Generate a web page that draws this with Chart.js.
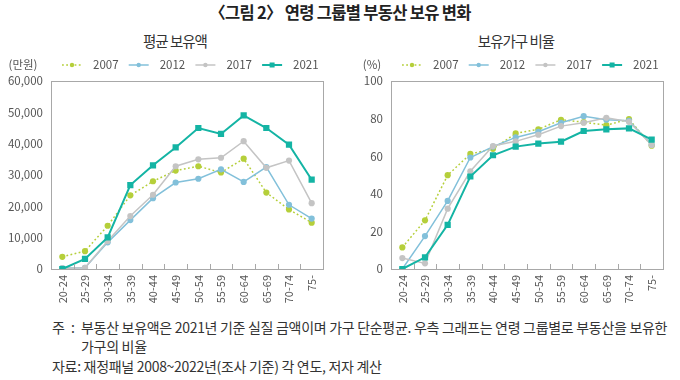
<!DOCTYPE html>
<html><head><meta charset="utf-8">
<script src="https://cdn.jsdelivr.net/npm/chart.js@4/dist/chart.umd.min.js"></script>
<style>
html,body{margin:0;padding:0;background:#fff;}
body{width:680px;height:380px;position:relative;overflow:hidden;font-family:"Noto Sans CJK KR","Noto Sans",sans-serif;color:#333;}
.t{position:absolute;white-space:nowrap;}
#title{left:0;width:680px;text-align:center;top:0px;font-size:16.5px;font-weight:bold;color:#222;letter-spacing:-0.7px;}
.sub{top:30px;font-size:14.5px;color:#333;letter-spacing:-1px;text-align:center;width:200px;}
.wrap{position:absolute;top:52px;width:340px;height:264px;}
.note{font-size:14px;color:#333;letter-spacing:-0.3px;line-height:20px;}
</style></head>
<body>
<div class="t" id="title">〈그림 2〉 연령 그룹별 부동산 보유 변화</div>
<div class="t sub" style="left:75px;">평균 보유액</div>
<div class="t sub" style="left:416px;">보유가구 비율</div>
<div class="wrap" style="left:0"><canvas id="c1"></canvas></div>
<div class="wrap" style="left:340px"><canvas id="c2"></canvas></div>
<div class="t note" style="left:52px;top:317px;">주</div>
<div class="t note" style="left:71px;top:317px;">:</div>
<div class="t note" style="left:81px;top:317px;">부동산 보유액은 2021년 기준 실질 금액이며 가구 단순평균. 우측 그래프는 연령 그룹별로 부동산을 보유한</div>
<div class="t note" style="left:81px;top:336px;">가구의 비율</div>
<div class="t note" style="left:52px;top:356px;">자료: 재정패널 2008~2022년(조사 기준) 각 연도, 저자 계산</div>
<script>
const ages = ['20-24','25-29','30-34','35-39','40-44','45-49','50-54','55-59','60-64','65-69','70-74','75-'];
const years = ['2007','2012','2017','2021'];
// 평균 보유액 (만원)
const amt2007 = [3900, 5700, 13800, 23500, 28000, 31400, 32800, 30800, 35200, 24400, 19000, 14800];
const amt2012 = [300, 400, 8500, 15600, 22600, 27600, 28800, 31800, 27800, 32500, 20500, 16100];
const amt2017 = [200, 400, 8900, 16900, 23700, 32800, 35000, 35500, 40800, 32300, 34600, 21000];
const amt2021 = [0, 3200, 10100, 26800, 33100, 38800, 45000, 43100, 49000, 45000, 39700, 28500];
// 보유가구 비율 (%)
const rate2007 = [11.5, 25.9, 49.9, 61.2, 63.9, 72.1, 74.3, 79.4, 78.1, 76.5, 79.7, 65.6];
const rate2012 = [0, 17.5, 36.2, 59.3, 65.1, 70.0, 73.0, 77.8, 81.3, 79.4, 78.8, 66.1];
const rate2017 = [5.8, 3.0, 32.1, 52.0, 65.4, 67.9, 71.4, 76.0, 77.8, 80.4, 78.3, 66.0];
const rate2021 = [0, 6.2, 23.5, 49.2, 60.5, 65.1, 66.7, 67.7, 73.4, 74.3, 74.8, 68.8];

const colors = ['#b5cf3a', '#82c0da', '#c4c4c4', '#14b4a4'];
const FONT = '"Noto Sans CJK KR","Noto Sans",sans-serif';

function makeSets(series){
  return series.map((d,i)=>({
    label: years[i],
    data: d,
    borderColor: colors[i],
    backgroundColor: colors[i],
    borderWidth: i===3 ? 2 : 1.5,
    borderDash: i===0 ? [1.8,2.4] : [],
    pointStyle: i===3 ? 'rect' : 'circle',
    pointRadius: i===3 ? 4.4 : 3.1,
    pointHoverRadius: i===3 ? 4.4 : 3.1,
    pointBorderWidth: 0,
    tension: 0,
    order: 3 - i
  }));
}

const framePlugin = {
  id:'frame',
  afterDatasetsDraw(chart){
    const {ctx, chartArea:a, scales:{x}} = chart;
    ctx.save();
    ctx.strokeStyle = '#a8a8a8';
    ctx.lineWidth = 1;
    ctx.strokeRect(Math.round(a.left)+0.5, Math.round(a.top)+0.5, Math.round(a.right-a.left), Math.round(a.bottom-a.top));
    ctx.beginPath();
    for(let i=0;i<ages.length-1;i++){
      const px = Math.round((x.getPixelForValue(i)+x.getPixelForValue(i+1))/2)+0.5;
      ctx.moveTo(px, a.bottom);
      ctx.lineTo(px, a.bottom-5);
    }
    ctx.stroke();
    ctx.restore();
  }
};

const legendPlugin = {
  id:'mylegend',
  afterDraw(chart, args, opts){
    const ctx = chart.ctx;
    const y = 13;
    ctx.save();
    ctx.font = '11.5px ' + FONT;
    ctx.fillStyle = '#555';
    ctx.textBaseline = 'middle';
    ctx.textAlign = 'center';
    ctx.fillText(opts.unit, opts.unitX, y);
    chart.data.datasets.forEach((ds,i)=>{
      const x0 = 62 + i*66.7;
      ctx.strokeStyle = ds.borderColor;
      ctx.lineWidth = ds.borderWidth;
      ctx.setLineDash(ds.borderDash);
      ctx.beginPath(); ctx.moveTo(x0, y); ctx.lineTo(x0+20, y); ctx.stroke();
      ctx.setLineDash([]);
      ctx.fillStyle = ds.backgroundColor;
      if(ds.pointStyle==='rect'){ ctx.fillRect(x0+10-2.5, y-2.5, 5, 5); }
      else { ctx.beginPath(); ctx.arc(x0+10, y, 2.2, 0, Math.PI*2); ctx.fill(); }
      ctx.fillStyle = '#555';
      ctx.textAlign = 'left';
      ctx.fillText(ds.label, x0+31, y);
    });
    ctx.restore();
  }
};

function build(id, series, max, step, fmt, unit, unitX){
  return new Chart(document.getElementById(id), {
    type:'line',
    data:{ labels: ages, datasets: makeSets(series) },
    plugins:[framePlugin, legendPlugin],
    options:{
      responsive:true, maintainAspectRatio:false, animation:false,
      layout:{ padding:{ left:0, right:17, top:29, bottom:0 } },
      plugins:{ legend:{display:false}, tooltip:{enabled:false}, mylegend:{unit, unitX} },
      scales:{
        x:{
          offset:true,
          grid:{ display:false, drawTicks:false },
          border:{ display:false },
          ticks:{ color:'#555', font:{family:FONT, size:11}, maxRotation:90, minRotation:90, padding:6, autoSkip:false },
          afterFit(s){ s.height = 47; }
        },
        y:{
          min:0, max:max,
          grid:{ display:false, drawTicks:false },
          border:{ display:false },
          ticks:{ stepSize:step, color:'#555', font:{family:FONT, size:11.5}, padding:8, callback: fmt },
          afterFit(s){ s.width = 51; }
        }
      }
    }
  });
}

build('c1', [amt2007, amt2012, amt2017, amt2021], 60000, 10000, v=>v.toLocaleString('en-US'), '(만원)', 23);
build('c2', [rate2007, rate2012, rate2017, rate2021], 100, 20, v=>String(v), '(%)', 32);
</script>
</body></html>
